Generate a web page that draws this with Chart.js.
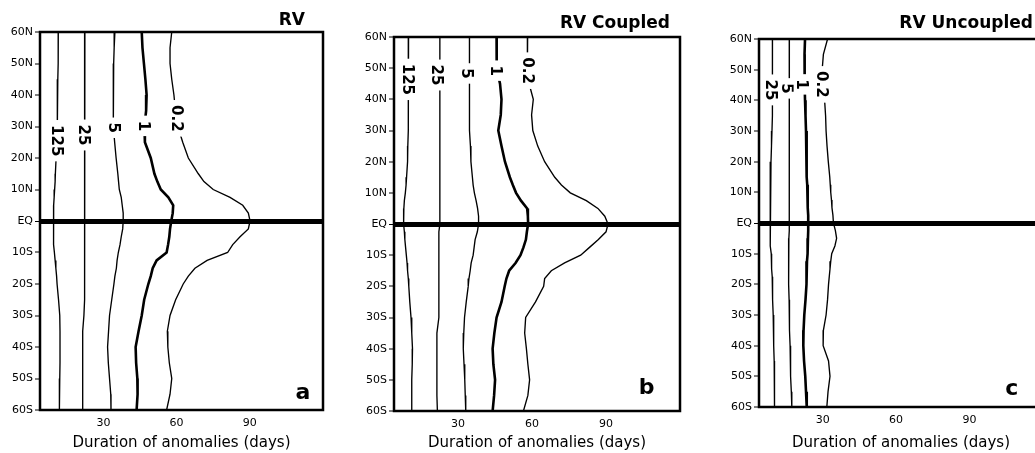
<!DOCTYPE html>
<html>
<head>
<meta charset="utf-8">
<script src="https://cdn.jsdelivr.net/npm/chart.js@4.4.1/dist/chart.umd.min.js"></script>
<style>
  html, body { margin: 0; padding: 0; background: #fff; overflow: hidden; }
  body { width: 1035px; height: 453px; position: relative; }
  canvas { position: absolute; top: 0; }
</style>
</head>
<body>
<canvas id="chartA" width="345" height="453" style="left:0px"></canvas>
<canvas id="chartB" width="345" height="453" style="left:350px"></canvas>
<canvas id="chartC" width="400" height="453" style="left:700px"></canvas>
<script>
// latitude (deg, N positive) at which each contour was read
const lats = [60, 55, 50, 45, 40, 35, 30, 25, 20, 15, 12.5, 10, 7.5, 5, 2.5, 0,
  -2.5, -5, -7.5, -10, -12.5, -15, -17.5, -20, -25, -30, -35, -40, -45, -50, -55, -60];

const xTickValues = [30, 60, 90];
const xTickLabels = ['30', '60', '90'];
const yTickValues = [60, 50, 40, 30, 20, 10, 0, -10, -20, -30, -40, -50, -60];
const yTickLabels = ['60N', '50N', '40N', '30N', '20N', '10N', 'EQ', '10S', '20S', '30S', '40S', '50S', '60S'];

// panel a: RV  (duration in days where each contour sits)
const a125 = [11.5, 11.5, 11.4, 11.3, 11.2, 11.1, 11.0, 10.8, 10.6, 10.3, 10.2, 10.0, 9.8, 9.6, 9.5, 9.5,
  9.5, 9.6, 9.7, 9.9, 10.2, 10.5, 10.8, 11.0, 11.6, 12.1, 12.2, 12.2, 12.2, 12.1, 12.0, 11.9];
const a25 = [22.4, 22.4, 22.4, 22.4, 22.4, 22.4, 22.4, 22.4, 22.3, 22.3, 22.3, 22.3, 22.3, 22.2, 22.2, 22.2,
  22.2, 22.2, 22.2, 22.2, 22.2, 22.2, 22.2, 22.2, 22.2, 22.0, 21.5, 21.5, 21.5, 21.5, 21.5, 21.5];
const a5 = [34.7, 34.4, 34.2, 34.0, 34.0, 34.0, 34.2, 34.6, 35.2, 35.9, 36.2, 36.5, 37.3, 37.7, 38.1, 38.1,
  37.9, 37.3, 36.8, 36.1, 35.6, 35.3, 34.7, 34.3, 33.4, 32.5, 32.1, 31.7, 32.0, 32.5, 33.0, 33.1];
const a1 = [45.7, 46.0, 46.6, 47.2, 47.7, 47.5, 46.8, 47.0, 49.4, 50.9, 52.1, 53.5, 56.6, 58.6, 58.4, 57.8,
  57.3, 57.0, 56.5, 55.9, 51.8, 50.2, 49.4, 48.4, 46.7, 45.7, 44.4, 43.2, 43.4, 43.9, 44.0, 43.6];
const a02 = [58.0, 57.3, 57.3, 58.0, 58.9, 59.5, 60.5, 62.5, 64.8, 68.9, 71.2, 75.0, 81.9, 87.1, 89.4, 90.1,
  89.4, 86.0, 83.0, 80.9, 72.5, 67.5, 64.8, 62.7, 59.6, 57.3, 56.2, 56.4, 57.0, 58.0, 57.3, 55.9];

// panel b: RV Coupled
const b125 = [9.9, 9.9, 9.8, 9.8, 9.8, 9.8, 9.7, 9.6, 9.5, 9.1, 8.9, 8.6, 8.2, 8.0, 7.9, 7.9,
  8.2, 8.4, 8.7, 9.0, 9.3, 9.5, 9.8, 10.0, 10.4, 10.9, 11.2, 11.5, 11.4, 11.2, 11.2, 11.2];
const b25 = [22.6, 22.6, 22.6, 22.6, 22.6, 22.6, 22.6, 22.6, 22.6, 22.6, 22.6, 22.6, 22.6, 22.6, 22.6, 22.6,
  22.2, 22.2, 22.2, 22.2, 22.2, 22.2, 22.2, 22.2, 22.2, 22.2, 21.4, 21.4, 21.4, 21.4, 21.4, 21.6];
const b5 = [34.6, 34.6, 34.5, 34.5, 34.6, 34.7, 34.8, 35.0, 35.2, 35.8, 36.1, 36.6, 37.3, 37.9, 38.3, 38.3,
  37.8, 36.9, 36.5, 36.1, 35.3, 34.9, 34.4, 34.1, 33.3, 32.6, 32.3, 32.1, 32.4, 32.7, 32.9, 33.1];
const b1 = [45.6, 45.6, 45.7, 47.0, 47.6, 47.3, 46.3, 47.6, 49.0, 51.0, 52.2, 53.5, 55.5, 58.0, 58.3, 58.4,
  57.9, 57.5, 56.5, 55.3, 53.3, 50.7, 49.6, 48.9, 47.6, 45.6, 44.7, 44.0, 44.3, 45.0, 44.6, 44.0];
const b02 = [58.2, 58.0, 58.2, 58.8, 60.5, 59.8, 60.3, 62.3, 65.1, 69.2, 71.9, 75.5, 82.0, 86.7, 89.5, 90.8,
  90.0, 86.9, 83.3, 79.7, 73.2, 67.8, 65.1, 64.7, 61.4, 57.4, 57.0, 57.7, 58.3, 59.0, 58.3, 56.5];

// panel c: RV Uncoupled
const c25 = [9.5, 9.5, 9.5, 9.5, 9.5, 9.4, 9.3, 9.1, 8.9, 8.7, 8.6, 8.5, 8.5, 8.5, 8.5, 8.5,
  8.6, 8.7, 8.8, 9.0, 9.1, 9.2, 9.4, 9.5, 9.6, 9.8, 9.9, 10.1, 10.2, 10.2, 10.3, 10.5];
const c5 = [16.4, 16.4, 16.4, 16.4, 16.4, 16.4, 16.4, 16.3, 16.3, 16.3, 16.3, 16.3, 16.4, 16.4, 16.4, 16.4,
  16.3, 16.2, 16.2, 16.1, 16.0, 16.0, 16.1, 16.2, 16.3, 16.4, 16.5, 16.7, 16.8, 17.0, 17.2, 17.4];
const c1 = [22.8, 22.6, 22.6, 22.7, 22.8, 23.0, 23.2, 23.3, 23.5, 23.6, 23.7, 23.8, 23.9, 24.0, 24.1, 24.1,
  24.1, 24.0, 23.9, 23.8, 23.6, 23.5, 23.4, 23.3, 23.0, 22.5, 22.2, 22.1, 22.4, 22.9, 23.2, 23.5];
const c02 = [32.0, 30.3, 29.8, 30.0, 30.8, 31.2, 31.4, 31.8, 32.3, 32.9, 33.1, 33.3, 33.6, 33.8, 34.2, 34.4,
  35.2, 35.7, 35.0, 33.7, 33.3, 33.0, 32.7, 32.4, 32.0, 31.4, 30.3, 30.2, 32.4, 33.0, 32.2, 31.7];

// contour labels: text, and where each sits (days, latitude)
const levelsAB = ['125', '25', '5', '1', '0.2'];
const levelsC = ['25', '5', '1', '0.2'];
const aLabelDays = [10.6, 21.5, 34.0, 46.3, 59.5];
const aLabelLats = [25.5, 27.3, 29.6, 30.2, 32.6];
const bLabelDays = [9.1, 20.8, 33.0, 45.0, 57.7];
const bLabelLats = [46.4, 47.8, 48.3, 49.2, 49.2];
const cLabelDays = [8.3, 14.8, 21.0, 29.2];
const cLabelLats = [43.4, 43.9, 45.2, 45.2];

const panelDecor = {
  id: 'panelDecor',
  afterDatasetsDraw(chart, args, o) {
    const { ctx, chartArea: ca, scales: { x, y } } = chart;
    ctx.save();
    // contour labels, rotated, with a gap cut in the line
    ctx.font = 'bold 15px "DejaVu Sans"';
    ctx.textAlign = 'center';
    ctx.textBaseline = 'middle';
    o.levels.forEach((txt, i) => {
      const w = ctx.measureText(txt).width;
      ctx.save();
      ctx.translate(x.getPixelForValue(o.labelDays[i]), y.getPixelForValue(o.labelLats[i]));
      ctx.rotate(Math.PI / 2);
      ctx.fillStyle = '#fff';
      ctx.fillRect(-w / 2 - 5, -7, w + 10, 14);
      ctx.fillStyle = '#000';
      ctx.fillText(txt, 0, 0);
      ctx.restore();
    });
    // frame
    ctx.lineWidth = 2.5;
    ctx.strokeStyle = '#000';
    ctx.strokeRect(ca.left, ca.top, ca.right - ca.left, ca.bottom - ca.top);
    // panel title
    ctx.fillStyle = '#000';
    ctx.font = 'bold 17px "DejaVu Sans"';
    ctx.textAlign = 'right';
    ctx.textBaseline = 'alphabetic';
    ctx.fillText(o.title, ca.right + o.titleDx, o.titleY);
    // panel letter
    ctx.font = 'bold 22px "DejaVu Sans"';
    ctx.textAlign = 'center';
    ctx.textBaseline = 'middle';
    ctx.fillText(o.letter, x.getPixelForValue(o.letterAt[0]), y.getPixelForValue(o.letterAt[1]));
    ctx.restore();
  }
};

const panels = [
  { id: 'chartA', title: 'RV', letter: 'a', letterAt: [111.8, -54.7], series: [a125, a25, a5, a1, a02],
    levels: levelsAB, labelDays: aLabelDays, labelLats: aLabelLats,
    top: 32, right: 22, yWidth: 40, xHeight: 43, titleDx: -18, titleY: 25 },
  { id: 'chartB', title: 'RV Coupled', letter: 'b', letterAt: [106.5, -52.6], series: [b125, b25, b5, b1, b02],
    levels: levelsAB, labelDays: bLabelDays, labelLats: bLabelLats,
    top: 37, right: 15, yWidth: 44, xHeight: 42, titleDx: -10, titleY: 28 },
  { id: 'chartC', title: 'RV Uncoupled', letter: 'c', letterAt: [107.2, -54.1], series: [c25, c5, c1, c02],
    levels: levelsC, labelDays: cLabelDays, labelLats: cLabelLats,
    top: 39, right: 57, yWidth: 59, xHeight: 46, titleDx: -10, titleY: 28 }
];

const tickFont = { family: 'DejaVu Sans', size: 11 };

panels.forEach(p => {
  new Chart(document.getElementById(p.id), {
    type: 'scatter',
    data: {
      datasets: p.series.map((vals, i) => ({
        label: p.levels[i],
        data: lats.map((lat, j) => ({ x: vals[j], y: lat })),
        showLine: true,
        borderColor: '#000',
        borderWidth: p.levels[i] === '1' ? 2.6 : 1.35,
        pointRadius: 0,
        tension: 0,
        fill: false
      }))
    },
    options: {
      responsive: false,
      animation: false,
      events: [],
      layout: { padding: { left: 0, top: p.top, right: p.right, bottom: 0 } },
      plugins: {
        legend: { display: false },
        tooltip: { enabled: false },
        panelDecor: p
      },
      scales: {
        x: {
          type: 'linear',
          min: 4,
          max: 120,
          afterBuildTicks: ax => { ax.ticks = xTickValues.map(v => ({ value: v })); },
          afterFit: ax => { ax.height = p.xHeight; },
          grid: { display: false, drawTicks: false },
          border: { display: false },
          ticks: {
            padding: 7, color: '#000', font: tickFont, maxRotation: 0, autoSkip: false,
            callback: (v, i) => xTickLabels[i]
          },
          title: {
            display: true, text: 'Duration of anomalies (days)', color: '#000',
            font: { family: 'DejaVu Sans', size: 15 }, padding: { top: 0, bottom: 1 }
          }
        },
        y: {
          type: 'linear',
          min: -60,
          max: 60,
          afterBuildTicks: ax => { ax.ticks = yTickValues.map(v => ({ value: v })); },
          afterFit: ax => { ax.width = p.yWidth; },
          grid: {
            color: '#000',
            lineWidth: c => (c.tick && c.tick.value === 0 ? 5 : 0),
            tickLength: 5,
            tickWidth: 1,
            tickColor: '#000'
          },
          border: { display: false },
          ticks: {
            padding: 2, color: '#000', font: tickFont, autoSkip: false,
            callback: (v, i) => yTickLabels[i]
          }
        }
      }
    },
    plugins: [panelDecor]
  });
});
</script>
</body>
</html>
